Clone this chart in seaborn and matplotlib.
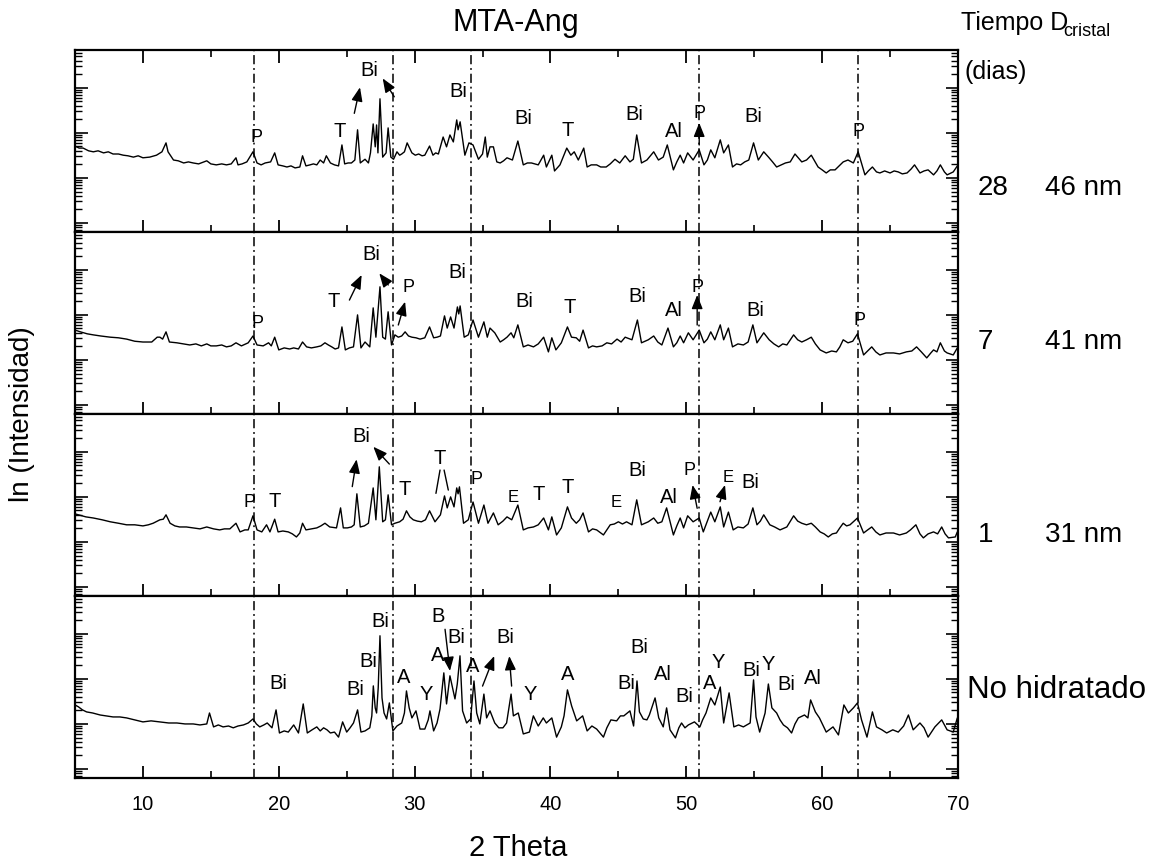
import matplotlib
matplotlib.use("Agg")
import matplotlib.pyplot as plt
import seaborn as sns
import pandas as pd
from matplotlib.ticker import LogLocator, MultipleLocator, NullFormatter

sns.set_theme(style="ticks")
plt.rcParams['font.family'] = ['Liberation Sans', 'DejaVu Sans']
plt.rcParams['text.color'] = 'black'
plt.rcParams['axes.labelcolor'] = 'black'
plt.rcParams['xtick.color'] = 'black'
plt.rcParams['ytick.color'] = 'black'

# ---------------- data: (2 Theta, intensity) ----------------
trace_28 = [
    (5.0,51),(5.3,46),(5.6,46),(6.0,40),(6.35,38),(6.7,40),(7.1,36),(7.45,38),(7.8,34),(8.2,34),
    (8.55,32),(8.9,31),(9.3,29),(9.65,31),(10.0,28),(10.5,29),(11.0,32),(11.4,38),(11.7,60),(11.85,38),
    (12.25,25),(12.6,24),(13.0,21.5),(13.35,22.7),(13.7,21.5),(14.1,20.5),(14.7,24),(15.0,20.5),(15.4,19.5),(15.8,20.5),
    (16.15,19.5),(16.5,20.5),(16.85,28),(17.0,19.5),(17.3,20.5),(17.65,22.7),(18.1,38),(18.4,21.5),(18.7,19.5),(19.0,21.5),
    (19.4,22.7),(19.7,36),(19.95,19.5),(20.3,18.5),(20.6,17.5),(20.9,18.5),(21.2,16.7),(21.55,17.5),(21.75,31),(22.0,18.5),
    (22.3,19.5),(22.55,20.5),(22.8,19.5),(23.05,25),(23.3,21.5),(23.5,31),(23.8,21.5),(24.1,19.5),(24.4,18.5),(24.65,54),
    (24.85,20.5),(25.1,21.5),(25.35,21.5),(25.6,25),(25.8,117),(26.0,21.5),(26.35,26),(26.6,21.5),(26.75,36),(26.95,158),
    (27.1,49),(27.2,150),(27.3,36),(27.45,571),(27.65,29),(27.9,36),(28.05,129),(28.25,29),(28.45,26),(28.7,38),
    (28.9,32),(29.05,34),(29.25,38),(29.45,60),(29.8,36),(30.05,32),(30.3,34),(30.55,31),(30.75,32),(31.1,51),
    (31.35,32),(31.55,36),(31.75,34),(32.1,81),(32.35,49),(32.6,90),(32.85,63),(33.1,194),(33.2,117),(33.35,176),
    (33.7,32),(34.0,60),(34.3,54),(34.7,26),(35.0,34),(35.2,81),(35.35,29),(35.55,49),(35.8,49),(36.05,22.7),
    (36.3,21.5),(36.55,24),(36.8,28),(37.2,25),(37.6,66),(38.0,19.5),(38.3,21.5),(38.6,21.5),(39.1,19.5),(39.5,32),
    (39.7,17.5),(40.1,32),(40.3,14.3),(40.7,19.5),(41.2,46),(41.5,32),(41.75,38),(42.05,25),(42.45,46),(42.7,17.5),
    (43.0,19.5),(43.4,19.5),(43.7,17.5),(44.1,17.5),(44.4,20.5),(44.75,26),(45.1,21.5),(45.5,31),(45.85,22.7),(46.1,26),
    (46.35,90),(46.7,21.5),(47.1,25),(47.6,38),(47.95,25),(48.3,29),(48.6,54),(49.05,15.1),(49.3,22.7),(49.55,32),
    (49.8,21.5),(50.1,36),(50.5,25),(50.95,42),(51.3,19.5),(51.55,25),(51.8,42),(52.1,28),(52.5,70),(52.75,36),
    (53.1,54),(53.4,17.5),(53.7,20.5),(54.0,19.5),(54.3,22.7),(54.6,25),(54.95,60),(55.3,25),(55.7,38),(56.05,29),
    (56.35,22.7),(56.65,17.5),(57.0,19.5),(57.3,21.5),(57.65,22.7),(58.0,34),(58.5,22.7),(58.85,25),(59.2,32),(59.7,17.5),
    (60.0,15.1),(60.3,12.9),(60.6,15.1),(60.95,15.1),(61.25,18.5),(61.55,22.7),(61.9,25),(62.3,21.5),(62.65,38),(63.15,11.7),
    (63.4,14.3),(63.7,17.5),(64.0,13.6),(64.25,12.9),(64.6,14.3),(65.0,12.9),(65.3,14.3),(65.6,13.6),(65.9,12.3),(66.25,12.9),
    (66.55,15.8),(66.8,19.5),(67.2,12.9),(67.5,14.3),(67.8,15.1),(68.2,11.7),(68.45,14.3),(68.7,19.5),(69.0,13.6),(69.2,11.7),
    (69.65,13.6),(69.95,18.5),
]

trace_7 = [
    (5.0,46),(5.4,42),(5.9,38),(6.35,36),(6.9,34),(7.6,32),(8.2,31),(8.8,29),(9.4,26),(10.0,25),
    (10.65,25),(11.05,32),(11.25,32),(11.45,29),(11.7,42),(11.95,25),(12.5,24),(13.0,22.7),(13.45,21.5),(13.9,22.7),
    (14.3,20.5),(14.7,22.7),(15.0,20.5),(15.4,20.5),(15.8,21.5),(16.15,19.5),(16.5,20.5),(16.85,24),(17.25,20.5),(17.75,24),
    (18.1,34),(18.4,21.5),(18.85,20.5),(19.25,24),(19.45,20.5),(19.7,32),(20.0,16.7),(20.4,18.5),(20.8,17.5),(21.1,18.5),
    (21.45,17.5),(21.75,25),(22.05,19.5),(22.4,18.5),(22.8,19.5),(23.1,20.5),(23.4,24),(23.65,21.5),(23.9,19.5),(24.15,17.5),
    (24.4,18.5),(24.65,54),(24.9,16.7),(25.2,18.5),(25.5,19.5),(25.8,100),(26.05,18.5),(26.35,25),(26.7,19.5),(26.95,143),
    (27.15,32),(27.45,420),(27.65,32),(27.85,29),(28.05,117),(28.3,21.5),(28.55,36),(28.8,32),(29.05,34),(29.3,42),
    (29.55,34),(29.8,32),(30.1,31),(30.4,29),(30.75,31),(31.1,54),(31.4,31),(31.65,32),(31.9,34),(32.2,95),
    (32.4,51),(32.65,90),(32.9,51),(33.15,150),(33.25,105),(33.35,158),(33.65,32),(33.95,36),(34.3,77),(34.7,32),
    (35.1,70),(35.35,32),(35.55,51),(35.9,40),(36.3,25),(36.55,28),(36.8,32),(37.1,40),(37.3,31),(37.6,60),
    (38.0,19.5),(38.35,21.5),(38.75,19.5),(39.1,22.7),(39.5,32),(39.85,15.1),(40.1,31),(40.4,16.7),(40.8,24),(41.25,54),
    (41.55,32),(41.9,31),(42.15,26),(42.4,46),(42.8,18.5),(43.1,20.5),(43.4,19.5),(43.8,20.5),(44.15,24),(44.5,22.7),
    (44.9,29),(45.2,25),(45.5,32),(46.0,28),(46.4,77),(46.7,24),(47.2,28),(47.6,34),(47.9,25),(48.2,21.5),
    (48.65,51),(49.05,19.5),(49.3,24),(49.55,34),(49.8,24),(50.15,40),(50.5,28),(50.95,46),(51.3,24),(51.55,29),
    (51.8,42),(52.1,28),(52.5,60),(52.75,28),(53.1,51),(53.4,19.5),(53.8,22.7),(54.2,21.5),(54.55,25),(54.9,60),
    (55.2,24),(55.7,40),(56.1,28),(56.45,22.7),(56.8,19.5),(57.1,22.7),(57.4,21.5),(57.9,36),(58.2,28),(58.5,25),
    (58.85,28),(59.2,32),(59.5,22.7),(59.85,16.7),(60.3,14.3),(60.7,15.8),(61.05,15.1),(61.3,19.5),(61.55,28),(61.9,24),
    (62.25,26),(62.6,38),(63.05,12.9),(63.35,15.8),(63.65,19.5),(63.95,15.1),(64.25,12.9),(64.7,14.3),(65.25,14.3),(65.7,13.6),
    (66.2,15.1),(66.6,15.8),(66.95,19.5),(67.3,15.1),(67.7,11.1),(68.0,14.3),(68.2,16.7),(68.45,15.1),(68.7,24),(69.0,15.8),
    (69.2,14.3),(69.65,12.9),(69.95,18.5),
]

trace_1 = [
    (5.0,42),(5.25,40),(5.8,36),(6.35,34),(7.0,31),(7.6,28),(8.2,26),(8.8,24),(9.4,24),(10.0,22.7),
    (10.4,24),(10.75,26),(11.25,31),(11.5,32),(11.7,40),(12.0,26),(12.35,22.7),(12.7,21.5),(13.2,21.5),(13.7,20.5),
    (14.2,19.5),(14.7,21.5),(15.2,19.5),(15.65,18.5),(16.0,19.5),(16.4,19.5),(16.85,26),(17.15,16.7),(17.5,18.5),(17.75,18.5),
    (18.1,38),(18.4,18.5),(18.75,16.7),(19.1,24),(19.35,16.7),(19.7,32),(19.95,16.7),(20.3,17.5),(20.7,16.7),(21.0,15.1),
    (21.3,12.9),(21.55,15.8),(21.75,26),(22.0,18.5),(22.4,19.5),(22.8,20.5),(23.1,22.7),(23.4,26),(23.75,21.5),(24.25,20.5),
    (24.55,57),(24.75,20.5),(25.05,20.5),(25.35,21.5),(25.55,24),(25.75,117),(26.0,21.5),(26.3,22.7),(26.6,26),(26.95,158),
    (27.15,31),(27.4,465),(27.65,28),(27.85,31),(28.05,111),(28.3,24),(28.55,26),(28.9,28),(29.15,32),(29.4,49),
    (29.65,36),(29.9,31),(30.2,29),(30.5,28),(30.8,31),(31.1,49),(31.5,28),(31.9,40),(32.2,105),(32.4,57),
    (32.65,100),(32.9,60),(33.1,158),(33.2,117),(33.3,167),(33.6,26),(33.95,31),(34.3,77),(34.7,26),(35.1,66),
    (35.4,26),(35.8,44),(36.15,24),(36.5,29),(36.8,36),(37.15,31),(37.6,66),(38.0,18.5),(38.35,20.5),(38.75,21.5),
    (39.1,24),(39.5,34),(39.85,18.5),(40.1,36),(40.45,14.3),(40.8,20.5),(41.25,60),(41.55,34),(41.9,26),(42.15,31),
    (42.4,44),(42.8,16.7),(43.1,19.5),(43.4,18.5),(43.9,14.3),(44.15,18.5),(44.4,24),(44.7,25),(45.0,28),(45.3,25),
    (45.6,28),(46.0,24),(46.35,86),(46.7,24),(47.2,28),(47.6,34),(47.9,26),(48.2,28),(48.55,57),(49.05,14.3),
    (49.3,22.7),(49.55,34),(49.8,20.5),(50.1,38),(50.5,28),(50.95,34),(51.25,16.7),(51.55,29),(51.8,46),(52.1,28),
    (52.5,60),(52.75,21.5),(53.1,46),(53.45,18.5),(53.8,21.5),(54.2,20.5),(54.55,25),(54.9,57),(55.2,24),(55.45,29),
    (55.7,40),(56.15,24),(56.5,21.5),(56.9,18.5),(57.4,21.5),(57.9,38),(58.2,29),(58.5,26),(58.85,24),(59.2,26),
    (59.5,21.5),(59.85,16.7),(60.15,15.1),(60.45,12.9),(60.75,15.1),(61.05,15.8),(61.3,20.5),(61.55,26),(61.8,22.7),(62.05,24),
    (62.6,34),(63.05,15.8),(63.35,18.5),(63.65,21.5),(63.95,16.7),(64.25,14.3),(64.7,15.8),(65.25,15.8),(65.7,14.3),(66.2,15.8),
    (66.5,18.5),(66.9,24),(67.2,15.1),(67.45,12.3),(67.8,15.1),(68.2,16.7),(68.5,15.1),(68.8,21.5),(69.05,15.1),(69.3,12.3),
    (69.8,12.9),(69.95,16.7),
]

trace_0 = [
    (5.0,26.4),(5.25,24),(5.55,20.5),(5.85,18.5),(6.3,17.5),(6.85,15.8),(7.3,15.1),(7.8,14.3),(8.3,14.3),(8.8,13.6),
    (9.4,12.3),(10.0,11.1),(10.6,11.7),(11.25,11.1),(11.9,10.5),(12.5,10.5),(13.1,10.0),(13.7,10.0),(14.2,9.5),(14.7,10.0),
    (14.9,17.5),(15.2,8.6),(15.55,9.5),(15.9,8.6),(16.3,9.0),(16.65,8.2),(17.0,9.0),(17.4,9.5),(17.75,10.5),(18.1,12.9),
    (18.35,10.0),(18.6,8.6),(18.9,9.5),(19.15,10.5),(19.5,8.2),(19.8,20.5),(20.05,6.3),(20.4,7.0),(20.7,6.6),(21.1,9.5),
    (21.45,6.3),(21.8,27.8),(22.1,6.3),(22.45,7.4),(22.8,8.6),(23.05,7.0),(23.3,8.2),(23.55,7.4),(23.8,6.3),(24.1,6.6),
    (24.4,5.1),(24.7,11.1),(25.0,6.6),(25.25,8.2),(25.5,10.5),(25.8,20.5),(26.05,6.6),(26.35,7.0),(26.7,8.2),(26.85,15.1),
    (26.96,69.9),(27.1,22.7),(27.2,17.5),(27.32,63),(27.45,906),(27.6,37.8),(27.75,17.5),(27.94,12.9),(28.14,29.3),(28.4,7.0),
    (28.7,9.0),(29.05,10.5),(29.25,17.5),(29.4,54),(29.6,22.7),(29.8,13.6),(30.1,19.5),(30.4,7.7),(30.75,7.7),(31.0,12.3),
    (31.13,19.5),(31.4,7.0),(31.65,10.5),(31.87,21.5),(32.15,136),(32.35,27.8),(32.6,117),(32.97,35.9),(33.14,77),(33.34,325),
    (33.53,19.5),(33.83,10.5),(34.12,12.9),(34.37,90),(34.57,17.5),(34.8,10.0),(35.1,46),(35.3,13.6),(35.55,19.5),(35.9,10.5),
    (36.2,8.2),(36.5,8.2),(36.77,10.5),(37.1,46),(37.27,15.1),(37.63,17.5),(38.0,6.0),(38.45,6.6),(38.74,15.1),(39.1,9.0),
    (39.47,13.6),(39.7,10.5),(40.1,13.6),(40.45,5.1),(40.8,8.6),(41.0,15.1),(41.25,57),(41.56,25),(41.93,11.7),(42.37,15.1),
    (42.7,7.0),(43.05,9.0),(43.4,7.7),(43.9,5.1),(44.15,8.2),(44.45,12.3),(44.87,11.7),(45.15,15.1),(45.4,15.1),(45.85,19.5),
    (46.12,9.0),(46.37,90),(46.55,18.5),(46.83,12.9),(47.1,12.3),(47.28,15.8),(47.7,37.8),(47.97,13.6),(48.3,8.6),(48.55,22.7),
    (48.8,7.4),(49.2,4.9),(49.45,8.2),(49.65,10.5),(49.9,8.2),(50.15,9.5),(50.6,11.1),(51.0,8.6),(51.2,12.3),(51.45,17.5),
    (51.8,37.8),(52.1,26.4),(52.5,66),(52.75,10.5),(53.15,48.9),(53.5,8.6),(53.85,9.5),(54.2,8.6),(54.7,10.5),(54.95,95),
    (55.13,14.3),(55.4,6.6),(55.8,17.5),(56.04,77),(56.3,22.7),(56.65,17.5),(56.9,12.3),(57.15,9.5),(57.45,8.2),(57.75,6.3),
    (58.0,10.0),(58.25,13.6),(58.7,15.8),(58.95,13.6),(59.15,34.1),(59.5,18.5),(59.8,13.6),(60.3,6.6),(60.8,8.6),(61.2,5.7),
    (61.6,26.4),(61.93,17.5),(62.3,22.7),(62.6,29.3),(62.9,12.3),(63.3,5.1),(63.7,18.5),(64.0,8.6),(64.4,7.4),(64.75,6.3),
    (65.2,7.4),(65.6,6.6),(66.0,9.0),(66.35,15.8),(66.7,7.4),(67.2,10.5),(67.5,8.2),(67.8,5.1),(68.3,8.6),(68.8,12.3),
    (69.2,7.4),(69.65,6.6),(69.95,13.6),
]

# phase labels: (text, 2theta, height as fraction of the panel)
labels_28 = [("P",18.37,0.52),("T",24.5,0.551),("Bi",26.67,0.89),("Bi",33.2,0.771),("Bi",38.0,0.625),
             ("T",41.3,0.555),("Bi",46.2,0.643),("Al",49.05,0.551),("P",50.95,0.652),("Bi",54.93,0.637),
             ("P",62.7,0.551)]
arrows_28 = [(25.56,0.652,25.98,0.795,True),(28.5,0.743,27.65,0.844,True),(50.95,0.478,50.95,0.60,True)]

labels_7 = [("P",18.42,0.498),("T",24.07,0.617),("Bi",26.83,0.874),("P",29.53,0.696),("Bi",33.14,0.776),
            ("Bi",38.05,0.617),("T",41.44,0.586),("Bi",46.4,0.645),("Al",49.1,0.571),("P",50.8,0.696),
            ("Bi",55.05,0.571),("P",62.78,0.513)]
arrows_7 = [(25.2,0.626,26.1,0.764,True),(28.06,0.709,27.4,0.773,True),(28.8,0.489,29.3,0.617,True),
            (50.8,0.489,50.8,0.654,True)]

labels_1 = [("P",17.88,0.513),("T",19.72,0.518),("Bi",26.1,0.875),("T",29.29,0.586),("T",31.87,0.757),
            ("P",34.52,0.641),("E",37.22,0.542),("T",39.1,0.555),("T",41.24,0.597),("E",44.87,0.513),
            ("Bi",46.4,0.689),("Al",48.75,0.542),("P",50.27,0.692),("E",53.1,0.652),("Bi",54.73,0.623)]
arrows_1 = [(25.41,0.601,25.73,0.751,True),(28.14,0.725,26.96,0.82,True),(31.57,0.564,31.87,0.692,False),
            (32.48,0.582,32.17,0.692,False),(50.8,0.482,50.46,0.61,True),(52.48,0.518,52.85,0.61,True)]

labels_0 = [("Bi",19.97,0.52),("Bi",25.61,0.484),("Bi",26.59,0.639),("Bi",27.5,0.859),("A",29.17,0.553),
            ("Y",30.89,0.46),("B",31.74,0.89),("A",31.67,0.674),("Bi",33.09,0.771),("A",34.27,0.615),
            ("Bi",36.65,0.771),("Y",38.49,0.46),("A",41.24,0.57),("Bi",45.61,0.52),("Bi",46.54,0.716),
            ("Al",48.31,0.566),("Bi",49.86,0.447),("A",51.69,0.52),("Y",52.36,0.634),("Bi",54.8,0.593),
            ("Y",56.05,0.621),("Bi",57.34,0.516),("Al",59.3,0.548)]
arrows_0 = [(32.24,0.817,32.6,0.588,True),(35.0,0.505,35.86,0.67,True),(37.14,0.505,36.97,0.67,True)]

reference_lines = [18.2, 28.4, 34.15, 50.9, 62.65]

panels = [
    ("28", "46 nm", trace_28, labels_28, arrows_28),
    ("7", "41 nm", trace_7, labels_7, arrows_7),
    ("1", "31 nm", trace_1, labels_1, arrows_1),
    ("No hidratado", None, trace_0, labels_0, arrows_0),
]

# ---------------- figure ----------------
W, H = 1164, 867
fig = plt.figure(figsize=(W / 100, H / 100), dpi=100)
fig.patch.set_facecolor("white")

def fx(px):
    return px / W

def fy(py):
    return 1 - py / H

left_px, right_px = 75, 958
tops = [50, 232, 414, 596]
panel_h = 182

label_sizes = {"P": 13, "E": 12}

for i, (days, size, trace, labels, arrows) in enumerate(panels):
    top = tops[i]
    ax = fig.add_axes([fx(left_px), fy(top + panel_h), (right_px - left_px) / W, panel_h / H])
    ax.set_facecolor("white")
    df = pd.DataFrame(trace, columns=["two_theta", "intensity"])
    sns.lineplot(data=df, x="two_theta", y="intensity", ax=ax, color="black",
                 linewidth=1.0, estimator=None, sort=False)
    ax.set_yscale("log")
    ax.set_xlim(5, 70)
    ax.set_ylim(10 ** -0.2, 10 ** 3.84)
    for xv in reference_lines:
        ax.axvline(xv, color="black", lw=1.1, ls=(0, (6, 2.5, 1.2, 2.5)))
    ax.xaxis.set_major_locator(MultipleLocator(10))
    ax.xaxis.set_minor_locator(MultipleLocator(5))
    ax.yaxis.set_major_locator(LogLocator(base=10))
    ax.yaxis.set_minor_locator(LogLocator(base=10, subs=[2, 3, 4, 5, 6, 7, 8, 9]))
    ax.yaxis.set_major_formatter(NullFormatter())
    ax.yaxis.set_minor_formatter(NullFormatter())
    is_bottom = i == len(panels) - 1
    ax.tick_params(axis="x", which="both", direction="in", top=(i == 0), bottom=True,
                   labelbottom=is_bottom, labelsize=14.5, colors="black", pad=12)
    ax.tick_params(axis="x", which="major", length=9, width=1.3)
    ax.tick_params(axis="x", which="minor", length=5, width=1.2)
    ax.tick_params(axis="y", which="both", direction="in", left=True, right=True,
                   labelleft=False)
    ax.tick_params(axis="y", which="major", length=9, width=1.2)
    ax.tick_params(axis="y", which="minor", length=5, width=1.0)
    for sp in ax.spines.values():
        sp.set_linewidth(1.6)
        sp.set_color("black")
    ax.set_xlabel("")
    ax.set_ylabel("")
    tr = ax.get_xaxis_transform()
    for txt, xv, yv in labels:
        ax.text(xv, yv, txt, transform=tr, ha="center", va="center",
                fontsize=label_sizes.get(txt, 14.5), color="black")
    for x0, y0, x1, y1, head in arrows:
        style = "-|>,head_length=0.7,head_width=0.28" if head else "-"
        ax.annotate("", xy=(x1, y1), xytext=(x0, y0), xycoords=tr, textcoords=tr,
                    arrowprops=dict(arrowstyle=style, color="black", lw=1.0,
                                    shrinkA=0, shrinkB=0))
    # right-hand labels
    mid_y = {0: 188, 1: 342, 2: 535, 3: 690}[i]
    if size is None:
        fig.text(fx(967), fy(mid_y), days, fontsize=22.5, ha="left", va="center")
    else:
        fig.text(fx(978), fy(mid_y), days, fontsize=20, ha="left", va="center")
        fig.text(fx(1045), fy(mid_y), size, fontsize=20, ha="left", va="center")

fig.text(fx(516), fy(23), "MTA-Ang", fontsize=22, ha="center", va="center")
fig.text(fx(961), fy(23), "Tiempo D", fontsize=18, ha="left", va="center")
fig.text(fx(1063), fy(31), "cristal", fontsize=13, ha="left", va="center")
fig.text(fx(964), fy(72), "(dias)", fontsize=18, ha="left", va="center")
fig.text(fx(22), fy(414), "ln (Intensidad)", fontsize=20, rotation=90, ha="center", va="center")
fig.text(fx(518), fy(848), "2 Theta", fontsize=21, ha="center", va="center")

fig.savefig("out.png", dpi=100, facecolor="white")
